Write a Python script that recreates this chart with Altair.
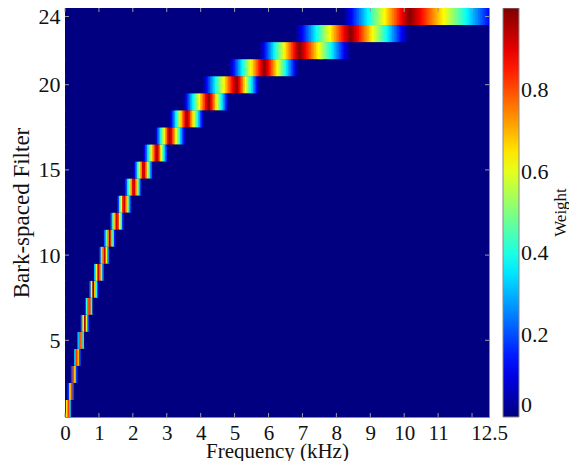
import altair as alt
import numpy as np
import pandas as pd

# ---- values ----
filter_index = list(range(1, 25))
# frequency (kHz) where each triangular filter peaks
peak_khz = [0.08, 0.18, 0.26, 0.36, 0.46, 0.58, 0.71, 0.83, 0.99, 1.16, 1.32, 1.53,
            1.74, 2.03, 2.32, 2.71, 3.09, 3.59, 4.24, 5.06, 5.88, 6.91, 8.42, 10.15]
# frequency (kHz) where each filter falls back to zero, below / above the peak
lower_khz = [-0.01, 0.08, 0.18, 0.26, 0.36, 0.46, 0.58, 0.71, 0.83, 1.00, 1.13, 1.32,
             1.53, 1.75, 2.02, 2.30, 2.65, 3.08, 3.49, 4.05, 4.83, 5.73, 6.79, 8.20]
upper_khz = [0.18, 0.26, 0.36, 0.46, 0.58, 0.71, 0.83, 0.99, 1.16, 1.31, 1.49, 1.74,
             1.97, 2.27, 2.60, 3.04, 3.56, 4.10, 4.84, 5.74, 6.89, 8.41, 10.13, 12.85]

x_ticks = [0, 1, 2, 3, 4, 5, 6, 7, 8, 9, 10, 11, 12.5]
y_ticks = [5, 10, 15, 20, 24]
cbar_ticks = [0, 0.2, 0.4, 0.6, 0.8]

max_khz = 12.5
n_bins = 256                      # FFT bins up to 12.5 kHz
bin_khz = max_khz / n_bins

# ---- build the weight matrix table (triangular filters sampled at FFT bins) ----
# each cell reaches a little into the next one, which is drawn over it (hides seams)
rows = []
for k, c, lo, hi in zip(filter_index, peak_khz, lower_khz, upper_khz):
    for j in range(n_bins + 1):
        fc = j * bin_khz
        if fc < c:
            w = max(0.0, (fc - lo) / (c - lo))
        else:
            w = max(0.0, (hi - fc) / (hi - c))
        rows.append({"f0": round(max(0.0, fc - bin_khz / 2), 5),
                     "f1": round(min(max_khz, fc + bin_khz), 5),
                     "r0": k - 0.5, "r1": k + 0.5, "w": round(float(w), 4)})
df = pd.DataFrame(rows)


# jet colormap stops
def jet(t):
    r = min(max(1.5 - abs(4 * t - 3), 0), 1)
    g = min(max(1.5 - abs(4 * t - 2), 0), 1)
    b = min(max(1.5 - abs(4 * t - 1), 0), 1)
    return "#%02x%02x%02x" % (int(round(r * 255)), int(round(g * 255)), int(round(b * 255)))


stops = [i / 32 for i in range(33)]
jet_colors = [jet(t) for t in stops]

W, H = 424, 409
FONT = "Liberation Serif"

xscale = alt.Scale(domain=[0, max_khz], nice=False, zero=False)
yscale = alt.Scale(domain=[0.5, 24.5], nice=False, zero=False)
x_axis = alt.Axis(title="Frequency (kHz)", values=x_ticks, labelExpr="datum.value + ''",
                  ticks=False, tickSize=0, domain=False, grid=False,
                  labelFontSize=21, titleFontSize=21,
                  labelPadding=5, titlePadding=-3, labelFlush=False, labelOverlap=False)
y_axis = alt.Axis(title="Bark-spaced Filter", values=y_ticks, labelExpr="datum.value + ''",
                  ticks=False, tickSize=0, domain=False, grid=False,
                  labelFontSize=22, titleFontSize=23,
                  labelPadding=5, titlePadding=5, labelFlush=False, labelOverlap=False)

heat = alt.Chart(df).mark_rect(strokeWidth=0).encode(
    x=alt.X("f0:Q", scale=xscale, axis=x_axis),
    x2="f1:Q",
    y=alt.Y("r0:Q", scale=yscale, axis=y_axis),
    y2="r1:Q",
    color=alt.Color("w:Q",
                    scale=alt.Scale(domain=stops, range=jet_colors, interpolate="rgb", clamp=True),
                    legend=alt.Legend(title=None, orient="right", direction="vertical",
                                      gradientLength=H, gradientThickness=16,
                                      values=cbar_ticks, labelExpr="datum.value + ''",
                                      labelFont=FONT, labelFontSize=22, labelColor="#111",
                                      labelOffset=2, labelBaseline="middle",
                                      offset=14, padding=0,
                                      gradientStrokeColor="#888", gradientStrokeWidth=1)),
)

xt = pd.DataFrame({"f0": list(range(0, 13))})
yt = pd.DataFrame({"r0": y_ticks})
tick_col = "#9a9a9a"
bottom_ticks = alt.Chart(xt).mark_rule(color=tick_col, strokeWidth=1).encode(
    x=alt.X("f0:Q", scale=xscale, axis=x_axis), y=alt.value(H), y2=alt.value(H - 4))
top_ticks = alt.Chart(xt).mark_rule(color=tick_col, strokeWidth=1).encode(
    x=alt.X("f0:Q", scale=xscale, axis=x_axis), y=alt.value(0), y2=alt.value(4))
left_ticks = alt.Chart(yt).mark_rule(color=tick_col, strokeWidth=1).encode(
    y=alt.Y("r0:Q", scale=yscale, axis=y_axis), x=alt.value(0), x2=alt.value(4))
right_ticks = alt.Chart(yt).mark_rule(color=tick_col, strokeWidth=1).encode(
    y=alt.Y("r0:Q", scale=yscale, axis=y_axis), x=alt.value(W), x2=alt.value(W - 4))

cbar_title = alt.Chart(pd.DataFrame({"t": ["Weight"]})).mark_text(
    angle=270, align="center", baseline="middle", font=FONT, fontSize=17, color="#111"
).encode(text="t:N", x=alt.value(W + 72), y=alt.value(H / 2))

chart = alt.layer(heat, bottom_ticks, top_ticks, left_ticks, right_ticks, cbar_title).properties(
    width=W, height=H,
    autosize=alt.AutoSizeParams(type="none"),
    padding={"left": 57, "top": 0, "right": 80, "bottom": 44},
    background="white",
).configure_view(
    stroke="#888", strokeWidth=1, fill="#000080"
).configure_axis(
    labelFont=FONT, labelColor="#111",
    titleFont=FONT, titleFontWeight="normal", titleColor="#111",
)

chart.save("out.html", embed_options={"renderer": "svg", "actions": False})
